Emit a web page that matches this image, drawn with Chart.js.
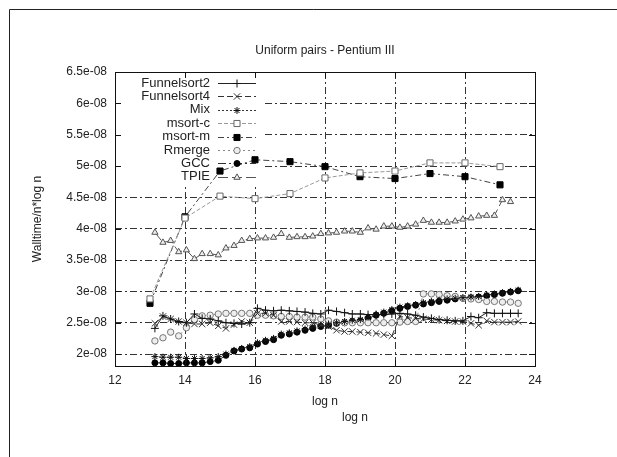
<!DOCTYPE html>
<html>
<head>
<meta charset="utf-8">
<script src="https://cdn.jsdelivr.net/npm/chart.js@4/dist/chart.umd.min.js"></script>
<style>
  html, body { margin: 0; padding: 0; background: #fff; }
  #c { display: block; }
</style>
</head>
<body>
<canvas id="c" width="617" height="457"></canvas>
<script>
// ---- data (values in units of 1e-08) ----
const chartTitle = "Uniform pairs - Pentium III";
const xTitle = "log n";
const yTitle = "Walltime/n*log n";

const logN = [13.14, 13.37, 13.59, 13.82, 14.04, 14.27, 14.49, 14.72, 14.95, 15.17, 15.40, 15.62, 15.85,
  16.07, 16.30, 16.53, 16.75, 16.98, 17.20, 17.43, 17.65, 17.88, 18.10, 18.33, 18.56, 18.78,
  19.01, 19.23, 19.46, 19.68, 19.91, 20.14, 20.36, 20.59, 20.81, 21.04, 21.26, 21.49, 21.72,
  21.94, 22.17, 22.39, 22.62, 22.84, 23.07, 23.30, 23.52];
const logNInt = [13, 14, 15, 16, 17, 18, 19, 20, 21, 22, 23];

const funnelsort2 = [2.41, 2.61, 2.56, 2.52, 2.50, 2.64, 2.57, 2.56, 2.53, 2.50, 2.49, 2.48, 2.50,
  2.73, 2.70, 2.69, 2.70, 2.69, 2.68, 2.67, 2.65, 2.64, 2.70, 2.68, 2.66, 2.64,
  2.64, 2.63, 2.63, 2.63, 2.64, 2.65, 2.64, 2.62, 2.59, 2.57, 2.55, 2.54, 2.53,
  2.53, 2.60, 2.58, 2.66, 2.65, 2.65, 2.65, 2.65];
const funnelsort4 = [2.49, 2.60, 2.56, 2.52, 2.50, 2.48, 2.48, 2.50, 2.45, 2.41, 2.47, 2.52, 2.50,
  2.65, 2.65, 2.62, 2.52, 2.52, 2.51, 2.50, 2.50, 2.46, 2.44, 2.38, 2.36, 2.36,
  2.35, 2.34, 2.33, 2.31, 2.29, 2.60, 2.58, 2.57, 2.56, 2.55, 2.54, 2.53, 2.52,
  2.52, 2.49, 2.46, 2.53, 2.51, 2.51, 2.51, 2.52];
const mix = [1.96, 1.95, 1.95, 1.95, 1.93, 1.93, 1.93, 1.94, 1.96, 2.00, 2.06, 2.09, 2.12,
  2.18, 2.22, 2.25, 2.32, 2.34, 2.37, 2.40, 2.43, 2.46, 2.48, 2.50, 2.52, 2.54,
  2.55, 2.59, 2.63, 2.67, 2.71, 2.75, 2.77, 2.79, 2.82, 2.84, 2.86, 2.88, 2.89,
  2.90, 2.91, 2.92, 2.94, 2.96, 2.98, 3.00, 3.02];
const msortC = [2.88, 4.17, 4.52, 4.48, 4.56, 4.81, 4.89, 4.92, 5.05, 5.05, 4.99];
const msortM = [2.81, 4.19, 4.92, 5.10, 5.07, 4.99, 4.83, 4.80, 4.88, 4.83, 4.70];
const rmerge = [2.21, 2.26, 2.35, 2.29, 2.42, 2.55, 2.61, 2.62, 2.64, 2.65, 2.65, 2.65, 2.65,
  2.62, 2.62, 2.61, 2.60, 2.60, 2.59, 2.59, 2.59, 2.56, 2.53, 2.51, 2.50, 2.50,
  2.50, 2.50, 2.50, 2.50, 2.50, 2.51, 2.52, 2.52, 2.96, 2.96, 2.95, 2.93, 2.92,
  2.89, 2.88, 2.87, 2.84, 2.84, 2.83, 2.83, 2.81];
const gcc = [1.86, 1.86, 1.85, 1.85, 1.86, 1.86, 1.86, 1.88, 1.90, 1.98, 2.05, 2.08, 2.10,
  2.16, 2.20, 2.23, 2.30, 2.32, 2.35, 2.38, 2.41, 2.44, 2.46, 2.49, 2.50, 2.52,
  2.53, 2.57, 2.62, 2.65, 2.69, 2.73, 2.76, 2.78, 2.80, 2.82, 2.84, 2.86, 2.88,
  2.89, 2.90, 2.91, 2.93, 2.95, 2.97, 2.99, 3.01];
const tpie = [3.94, 3.78, 3.81, 3.63, 3.66, 3.52, 3.60, 3.60, 3.58, 3.69, 3.73, 3.81, 3.84,
  3.85, 3.85, 3.86, 3.92, 3.86, 3.87, 3.87, 3.88, 3.92, 3.93, 3.94, 3.96, 3.96,
  3.94, 4.01, 3.99, 4.04, 4.04, 4.02, 4.04, 4.07, 4.13, 4.10, 4.10, 4.10, 4.12,
  4.15, 4.17, 4.20, 4.21, 4.21, 4.46, 4.43];

const seriesNames = ["Funnelsort2", "Funnelsort4", "Mix", "msort-c", "msort-m", "Rmerge", "GCC", "TPIE"];
const xTickValues = [12, 14, 16, 18, 20, 22, 24];
const xTickLabels = ["12", "14", "16", "18", "20", "22", "24"];
const yTickValues = [2, 2.5, 3, 3.5, 4, 4.5, 5, 5.5, 6, 6.5];
const yTickLabels = ["2e-08", "2.5e-08", "3e-08", "3.5e-08", "4e-08", "4.5e-08", "5e-08", "5.5e-08", "6e-08", "6.5e-08"];

// ---- build datasets ----
function pts(xs, ys) { return ys.map((v, i) => ({ x: xs[i], y: v })); }

const styles = [
  { color: '#222', dash: [], ps: 'cross', r: 4, fill: 'rgba(0,0,0,0)', pc: '#111' },
  { color: '#333', dash: [6, 3], ps: 'crossRot', r: 4.5, fill: 'rgba(0,0,0,0)', pc: '#333' },
  { color: '#333', dash: [2, 2], ps: 'star', r: 3.5, fill: '#111', pc: '#111' },
  { color: '#999', dash: [4, 2], ps: 'rect', r: 4.3, fill: '#fff', pc: '#666' },
  { color: '#444', dash: [6, 3, 2, 3], ps: 'rect', r: 4.3, fill: '#000', pc: '#000' },
  { color: '#888', dash: [2, 3], ps: 'circle', r: 3.2, fill: '#eee', pc: '#777' },
  { color: '#333', dash: [8, 3, 2, 3], ps: 'circle', r: 3, fill: '#000', pc: '#000' },
  { color: '#555', dash: [10, 4], ps: 'triangle', r: 3.6, fill: '#eee', pc: '#555' }
];
const seriesData = [
  pts(logN, funnelsort2), pts(logN, funnelsort4), pts(logN, mix),
  pts(logNInt, msortC), pts(logNInt, msortM), pts(logN, rmerge),
  pts(logN, gcc), pts(logN, tpie)
];

const datasets = seriesNames.map((name, i) => ({
  label: name,
  data: seriesData[i],
  showLine: true,
  borderColor: styles[i].color,
  borderWidth: 1,
  borderDash: styles[i].dash,
  pointStyle: styles[i].ps,
  pointRadius: styles[i].r,
  pointBackgroundColor: styles[i].fill,
  pointBorderColor: styles[i].pc,
  pointBorderWidth: 1,
  tension: 0
}));

const FONT = "'Liberation Sans', Arial, sans-serif";

const pagePlugin = {
  id: 'page',
  beforeDraw(chart) {
    const ctx = chart.ctx;
    ctx.save();
    ctx.fillStyle = '#fff';
    ctx.fillRect(0, 0, chart.width, chart.height);
    ctx.strokeStyle = '#222';
    ctx.lineWidth = 1;
    ctx.beginPath();
    ctx.moveTo(9.5, chart.height);
    ctx.lineTo(9.5, 9.5);
    ctx.lineTo(chart.width, 9.5);
    ctx.stroke();
    ctx.restore();
  },
  beforeDatasetsDraw(chart) {
    // key area blanks out the grid like gnuplot
    const ctx = chart.ctx;
    const a = chart.chartArea;
    ctx.save();
    ctx.fillStyle = '#fff';
    ctx.fillRect(a.left + 1, a.top + 1, 262 - a.left, 185 - a.top);
    ctx.restore();
  },
  afterDraw(chart) {
    const ctx = chart.ctx;
    const a = chart.chartArea;
    const xs = chart.scales.x, ys = chart.scales.y;
    ctx.save();
    // plot border
    ctx.strokeStyle = '#111';
    ctx.lineWidth = 1;
    ctx.strokeRect(Math.round(a.left) + 0.5, Math.round(a.top) + 0.5,
      Math.round(a.right - a.left), Math.round(a.bottom - a.top));
    // inward ticks
    ctx.beginPath();
    yTickValues.forEach(v => {
      const y = Math.round(ys.getPixelForValue(v)) + 0.5;
      ctx.moveTo(a.left, y); ctx.lineTo(a.left + 6, y);
      ctx.moveTo(a.right, y); ctx.lineTo(a.right - 6, y);
    });
    xTickValues.forEach(v => {
      const x = Math.round(xs.getPixelForValue(v)) + 0.5;
      ctx.moveTo(x, a.bottom); ctx.lineTo(x, a.bottom - 6);
      ctx.moveTo(x, a.top); ctx.lineTo(x, a.top + 6);
    });
    ctx.stroke();
    // second x label
    ctx.fillStyle = '#222';
    ctx.font = '12px ' + FONT;
    ctx.textAlign = 'center';
    ctx.textBaseline = 'middle';
    ctx.fillText(xTitle, 355, 418);
    // legend (key)
    ctx.font = '13px ' + FONT;
    ctx.textAlign = 'right';
    chart.data.datasets.forEach((ds, i) => {
      const y = 83 + i * 13.4;
      ctx.fillStyle = '#222';
      ctx.fillText(ds.label, 210, y);
      ctx.save();
      ctx.strokeStyle = ds.borderColor;
      ctx.lineWidth = 1;
      ctx.setLineDash(ds.borderDash);
      ctx.beginPath();
      ctx.moveTo(218, Math.round(y) + 0.5);
      ctx.lineTo(256, Math.round(y) + 0.5);
      ctx.stroke();
      ctx.setLineDash([]);
      ctx.fillStyle = ds.pointBackgroundColor;
      ctx.strokeStyle = ds.pointBorderColor;
      Chart.helpers.drawPoint(ctx, { pointStyle: ds.pointStyle, radius: ds.pointRadius, rotation: 0, borderWidth: 1 }, 237, Math.round(y) + 0.5);
      ctx.restore();
    });
    ctx.restore();
  }
};

new Chart(document.getElementById('c'), {
  type: 'scatter',
  data: { datasets },
  plugins: [pagePlugin],
  options: {
    responsive: false,
    animation: false,
    devicePixelRatio: 1,
    layout: { padding: { left: 0, right: 82, top: 30, bottom: 48 } },
    plugins: {
      legend: { display: false },
      tooltip: { enabled: false },
      title: {
        display: true,
        fullSize: false,
        text: chartTitle,
        color: '#222',
        font: { family: FONT, size: 12, weight: 'normal' },
        padding: { top: 13, bottom: 14.6 }
      }
    },
    scales: {
      x: {
        type: 'linear',
        min: 12, max: 24,
        afterBuildTicks: s => { s.ticks = xTickValues.map(v => ({ value: v })); },
        afterFit: s => { s.height = 43; },
        ticks: {
          color: '#222', padding: 7,
          font: { family: FONT, size: 12 },
          callback: (v) => xTickLabels[xTickValues.indexOf(v)]
        },
        grid: { color: '#333', lineWidth: 1, drawTicks: false },
        border: { display: false, dash: [7, 3, 2, 3] },
        title: { display: true, text: xTitle, color: '#222', font: { family: FONT, size: 12 }, padding: { top: 0, bottom: 0 } }
      },
      y: {
        type: 'linear',
        min: 1.81, max: 6.5,
        afterBuildTicks: s => { s.ticks = yTickValues.map(v => ({ value: v })); },
        afterFit: s => { s.width = 115; },
        ticks: {
          color: '#222', padding: 8,
          font: { family: FONT, size: 12 },
          callback: (v) => yTickLabels[yTickValues.indexOf(v)]
        },
        grid: { color: '#333', lineWidth: 1, drawTicks: false },
        border: { display: false, dash: [7, 3, 2, 3] },
        title: { display: true, text: yTitle, color: '#222', font: { family: FONT, size: 12 }, padding: { top: 30, bottom: 0 } }
      }
    }
  }
});
</script>
</body>
</html>
